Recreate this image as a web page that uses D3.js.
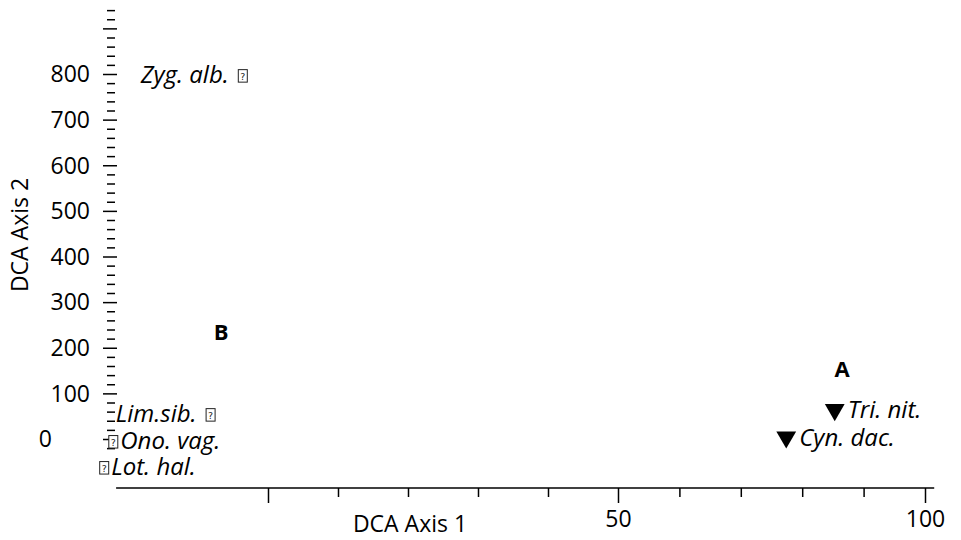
<!DOCTYPE html>
<html>
<head>
<meta charset="utf-8">
<script src="https://cdn.jsdelivr.net/npm/d3@7"></script>
<style>
html,body{margin:0;padding:0;background:#fff;}
svg{display:block;font-family:"Open Sans",sans-serif;}
</style>
</head>
<body>
<svg id="chart" width="961" height="540"></svg>
<script>
// ---- data ----
const species = ["Zyg. alb.", "Lim.sib.", "Ono. vag.", "Lot. hal.", "Tri. nit.", "Cyn. dac."];
const axis1 = [-3.6, -8.2, -22.1, -23.4, 85.3, 77.4];
const axis2 = [800, 57, -2, -59, 64, 4];
const markerType = ["square", "square", "square", "square", "triangle", "triangle"];
const labelSide = ["left", "left", "right", "right", "right", "right"];
const groupNames = ["A", "B"];
const groupAxis1 = [86.5, -6.7];
const groupAxis2 = [153, 234];
const xTickValues = [0, 50, 100];
const xTickLabels = ["", "50", "100"];
const xMinorValues = [10, 20, 30, 40, 60, 70, 80, 90];
const yTickValues = [0, 100, 200, 300, 400, 500, 600, 700, 800];
const yTickLabels = ["0", "100", "200", "300", "400", "500", "600", "700", "800"];
const xDomainExtent = [-21.7, 101.5];

// ---- layout ----
const svg = d3.select("#chart");
const x = d3.scaleLinear().domain([0, 50, 100]).range([268, 618, 925]);
const y = d3.scaleLinear().domain([0, 800]).range([439, 74]);
const axisY = 488;
const fs = 23;
const lfs = 24;

// x axis line
svg.append("line")
  .attr("x1", x(xDomainExtent[0])).attr("x2", x(xDomainExtent[1]))
  .attr("y1", axisY).attr("y2", axisY)
  .attr("stroke", "#000").attr("stroke-width", 1.5);

// x minor ticks
const gxm = svg.append("g").attr("transform", `translate(0,${axisY})`)
  .call(d3.axisBottom(x).tickValues(xMinorValues).tickSize(9).tickFormat(""));
gxm.select(".domain").remove();
gxm.selectAll("line").attr("stroke-width", 1.5);

// x major ticks
const gx = svg.append("g").attr("transform", `translate(0,${axisY})`)
  .call(d3.axisBottom(x).tickValues(xTickValues).tickSize(15).tickPadding(8)
    .tickFormat((d, i) => xTickLabels[i]));
gx.select(".domain").remove();
gx.selectAll("line").attr("stroke-width", 1.5);
gx.selectAll("text").attr("font-family", "Open Sans").attr("font-size", fs).attr("fill", "#000");

// y minor ticks
const yMinor = d3.range(-20, 941, 20).filter(v => v % 100 !== 0);
const gym = svg.append("g").attr("transform", "translate(107,0)")
  .call(d3.axisRight(y).tickValues(yMinor).tickSize(8).tickFormat(""));
gym.select(".domain").remove();
gym.selectAll("line").attr("stroke-width", 1.5);

// y major ticks
const yMajor = d3.range(0, 901, 100);
const gy = svg.append("g").attr("transform", "translate(103,0)")
  .call(d3.axisRight(y).tickValues(yMajor).tickSize(14).tickFormat(""));
gy.select(".domain").remove();
gy.selectAll("line").attr("stroke-width", 1.5);

// y tick labels
svg.append("g").selectAll("text").data(yTickValues).join("text")
  .attr("x", (d) => d === 0 ? 52 : 90)
  .attr("y", d => y(d))
  .attr("dy", "0.36em")
  .attr("text-anchor", "end")
  .attr("font-size", fs)
  .text((d, i) => yTickLabels[i]);

// axis titles
svg.append("text")
  .attr("x", 410).attr("y", 524).attr("dy", "0.36em")
  .attr("text-anchor", "middle").attr("font-size", fs)
  .text("DCA Axis 1");
svg.append("text")
  .attr("transform", "translate(20,235) rotate(-90)")
  .attr("dy", "0.36em")
  .attr("text-anchor", "middle").attr("font-size", fs)
  .text("DCA Axis 2");

// points
const pts = svg.append("g");
species.forEach((name, i) => {
  const px = x(axis1[i]), py = y(axis2[i]);
  const base = py + 0.36 * lfs;
  let off;
  if (markerType[i] === "triangle") {
    pts.append("path")
      .attr("d", d3.symbol().type(d3.symbolTriangle).size(170)())
      .attr("transform", `translate(${px},${py}) rotate(180)`)
      .attr("fill", "#000");
    off = 13;
  } else {
    const g = pts.append("g").attr("transform", `translate(${px},${base})`);
    g.append("rect")
      .attr("x", -4.5).attr("y", -13).attr("width", 9).attr("height", 12.5)
      .attr("fill", "#fff").attr("stroke", "#222").attr("stroke-width", 1);
    g.append("text")
      .attr("x", 0).attr("y", -3)
      .attr("text-anchor", "middle")
      .attr("font-family", "DejaVu Sans")
      .attr("font-size", 9.5)
      .attr("fill", "#222")
      .text("?");
    off = labelSide[i] === "left" ? 14 : 7;
  }
  pts.append("text")
    .attr("x", labelSide[i] === "left" ? px - off : px + off)
    .attr("y", py).attr("dy", "0.36em")
    .attr("text-anchor", labelSide[i] === "left" ? "end" : "start")
    .attr("font-style", "italic")
    .attr("font-size", lfs)
    .text(name);
});

// group labels
svg.append("g").selectAll("text").data(groupNames).join("text")
  .attr("x", (d, i) => x(groupAxis1[i]))
  .attr("y", (d, i) => y(groupAxis2[i]))
  .attr("dy", "0.36em")
  .attr("text-anchor", "middle")
  .attr("font-weight", "bold")
  .attr("font-size", fs - 1)
  .text(d => d);
</script>
</body>
</html>
